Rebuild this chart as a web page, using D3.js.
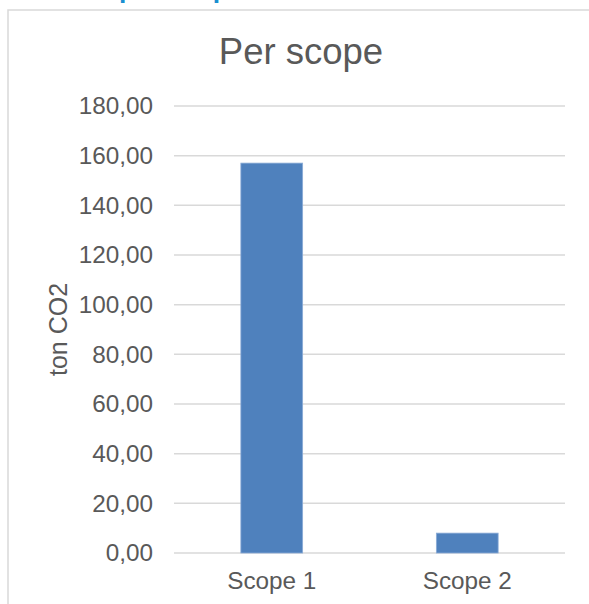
<!DOCTYPE html>
<html>
<head>
<meta charset="utf-8">
<script src="https://cdn.jsdelivr.net/npm/d3@7/dist/d3.min.js"></script>
<style>
  html, body { margin: 0; padding: 0; background: #ffffff; }
  svg { display: block; }
  text { font-family: "Liberation Sans", Arial, sans-serif; }
</style>
</head>
<body>
<svg id="chart" width="589" height="604"></svg>
<script>
const categories = ["Scope 1", "Scope 2"];
const values = [157.0, 8.0];
const yTicks = [0, 20, 40, 60, 80, 100, 120, 140, 160, 180];
const chartTitle = "Per scope";
const yAxisTitle = "ton CO2";
const headingText = "per scope";

const svg = d3.select("#chart");
const W = 589, H = 604;
const plot = { left: 174, right: 565, top: 106, bottom: 553 };
const labelSize = 24.3;

// heading cut off at top of the page
svg.append("text")
  .attr("x", 119).attr("y", -2.5)
  .attr("font-size", 26.4).attr("font-weight", "bold")
  .attr("fill", "#1a8fd0")
  .text(headingText);

// chart frame
svg.append("rect")
  .attr("x", 8).attr("y", 10)
  .attr("width", 640).attr("height", 640)
  .attr("fill", "#ffffff")
  .attr("stroke", "#d9d9d9").attr("stroke-width", 1.5);

const x = d3.scaleBand().domain(categories).range([plot.left, plot.right]).paddingInner(0).paddingOuter(0);
const y = d3.scaleLinear().domain([0, 180]).range([plot.bottom, plot.top]);

// gridlines
svg.append("g").selectAll("line").data(yTicks).join("line")
  .attr("x1", plot.left).attr("x2", plot.right)
  .attr("y1", d => y(d)).attr("y2", d => y(d))
  .attr("stroke", "#d9d9d9").attr("stroke-width", 1.5);

// y tick labels
const fmt = d => d.toFixed(2).replace(".", ",");
const yAxis = d3.axisLeft(y).tickValues(yTicks).tickFormat(fmt).tickSize(0).tickPadding(21);
const gy = svg.append("g").attr("transform", `translate(${plot.left},0)`).call(yAxis);
gy.select(".domain").remove();
gy.selectAll("text")
  .attr("font-size", labelSize).attr("fill", "#595959")
  .style("font-family", '"Liberation Sans", Arial, sans-serif');

// bars
const barFrac = 0.316;
svg.append("g").selectAll("rect").data(values).join("rect")
  .attr("x", (d, i) => x(categories[i]) + x.bandwidth() * (1 - barFrac) / 2)
  .attr("width", x.bandwidth() * barFrac)
  .attr("y", d => y(d))
  .attr("height", d => y(0) - y(d))
  .attr("fill", "#4f81bd")
  .attr("stroke", "#8aabd6").attr("stroke-width", 0.8);

// x labels
const xAxis = d3.axisBottom(x).tickSize(0).tickPadding(19);
const gx = svg.append("g").attr("transform", `translate(0,${plot.bottom})`).call(xAxis);
gx.select(".domain").remove();
gx.selectAll("text")
  .attr("font-size", labelSize).attr("fill", "#595959")
  .style("font-family", '"Liberation Sans", Arial, sans-serif');

// title
svg.append("text")
  .attr("x", 301).attr("y", 64)
  .attr("text-anchor", "middle")
  .attr("font-size", 36.5).attr("fill", "#595959")
  .text(chartTitle);

// y axis title
svg.append("text")
  .attr("transform", `translate(67,${(plot.top + plot.bottom) / 2}) rotate(-90)`)
  .attr("text-anchor", "middle")
  .attr("font-size", 25).attr("fill", "#595959")
  .text(yAxisTitle);
</script>
</body>
</html>
